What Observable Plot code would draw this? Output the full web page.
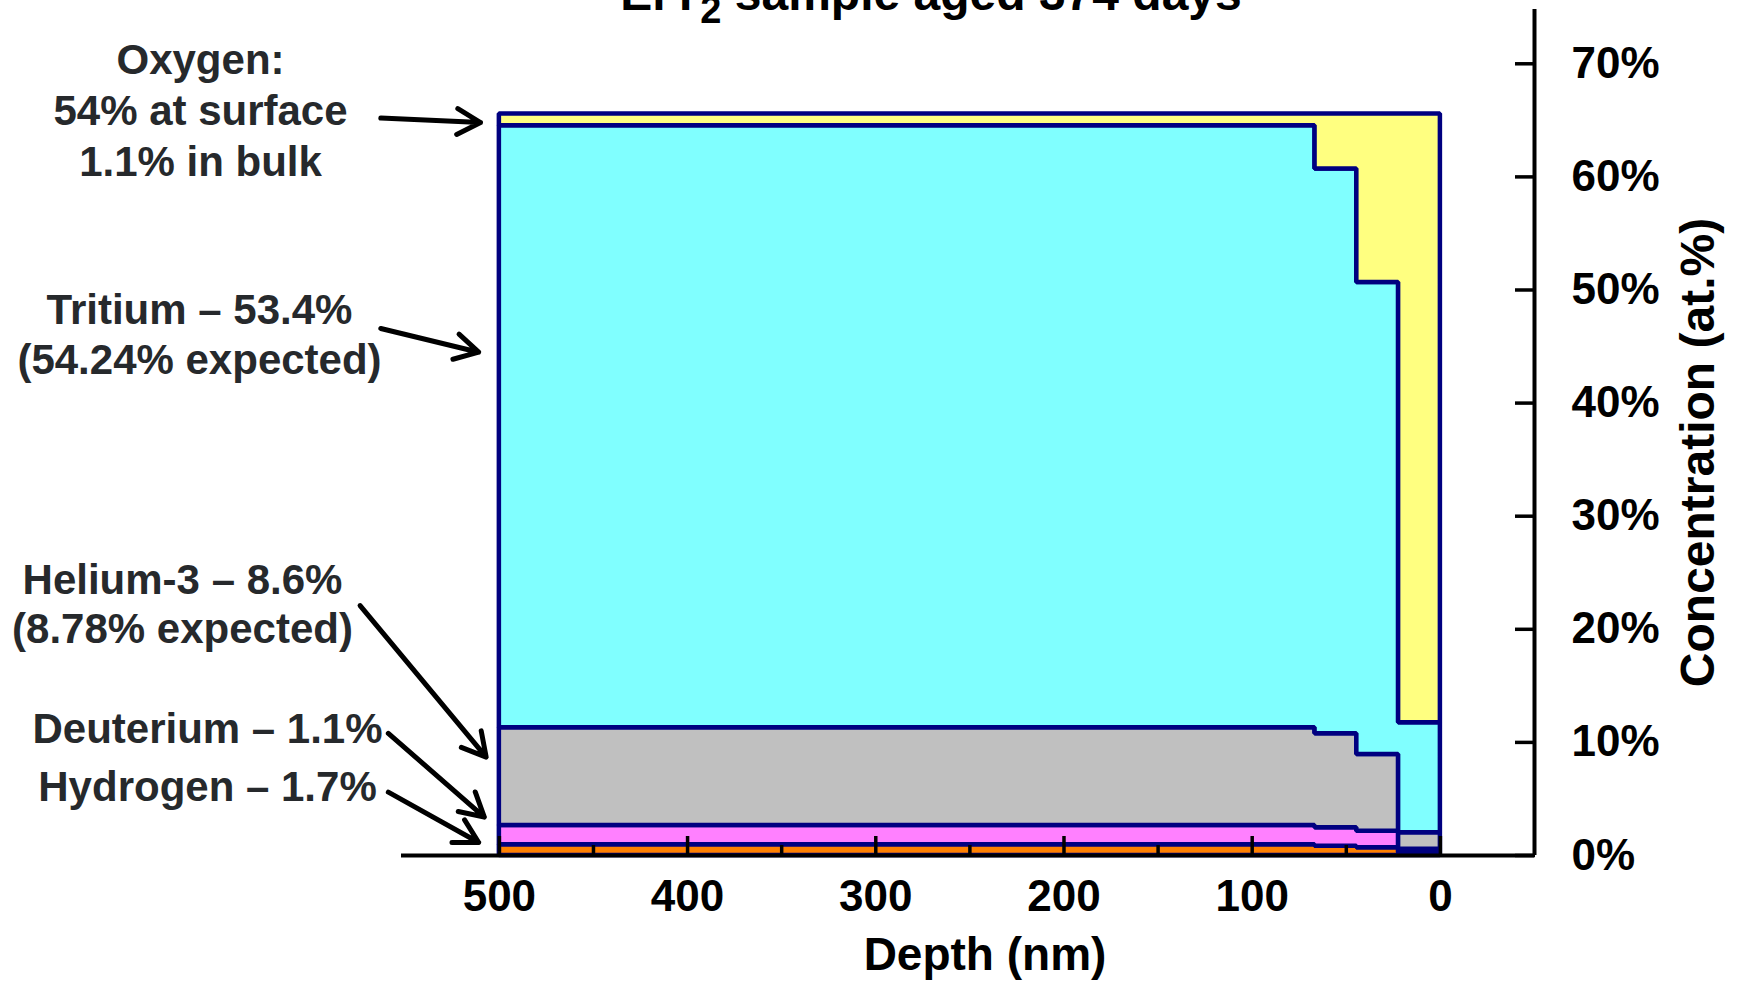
<!DOCTYPE html>
<html>
<head>
<meta charset="utf-8">
<script src="https://cdn.jsdelivr.net/npm/d3@7"></script>
<script src="https://cdn.jsdelivr.net/npm/@observablehq/plot@0.6"></script>
<style>
  html, body { margin: 0; padding: 0; background: #ffffff; overflow: hidden; }
  #chart svg { display: block; }
</style>
</head>
<body>
<div id="chart"></div>
<script>
// ---- data ----
const depthEdges = [500, 66.6, 44.4, 22.2, 0];          // nm, bin edges (bulk -> surface)
const elements = ["Hydrogen", "Deuterium", "Helium-3", "Tritium", "Oxygen"]; // bottom -> top
const hydrogen  = [0.95, 0.82, 0.68, 0.25];             // at.% per depth bin
const deuterium = [1.70, 1.63, 1.47, 0.30];
const helium3   = [8.64, 8.31, 6.78, 1.46];
const tritium   = [53.23, 49.93, 41.74, 9.72];
const oxygen    = [1.03, 4.86, 14.88, 53.82];
const xMajorTicks = [0, 100, 200, 300, 400, 500];
const xMinorTicks = [50, 150, 250, 350, 450];
const yTicks = [0, 10, 20, 30, 40, 50, 60, 70];
const titleParts = ["ErT", "2", " sample aged 374 days"];   // "2" is a subscript
const xLabel = "Depth (nm)";
const yLabel = "Concentration (at.%)";
const annotationTexts = [
  "Oxygen:\n54% at surface\n1.1% in bulk",
  "Tritium \u2013 53.4%\n(54.24% expected)",
  "Helium-3 \u2013 8.6%\n(8.78% expected)",
  "Deuterium \u2013 1.1%",
  "Hydrogen \u2013 1.7%"
];
// arrow tails / tips in data units (depth nm, at.%)
const arrowTailDepth = [563, 563, 574, 559, 559];
const arrowTailPct   = [65.2, 46.6, 22.1, 10.8, 5.6];
const arrowTipDepth  = [510, 511, 507, 508, 511];
const arrowTipPct    = [64.8, 44.5, 8.7, 3.4, 1.15];

// ---- styles / layout ----
const layerColors = ["#ff8000", "#ff80ff", "#c0c0c0", "#80ffff", "#ffff80"];
const outline = "#000080";
const textDark = "#26292c";
const W = 1737, H = 983;
const mTop = 9, mBottom = 128, mLeft = 401, mRight = 203;
const annFont = 42;
const annLayout = [
  {cx: 200, base: 73, lh: 1.22},
  {cx: 199, base: 323, lh: 1.2},
  {cx: 182, base: 593, lh: 1.19},
  {cx: 207, base: 742, lh: 1.2},
  {cx: 207, base: 800, lh: 1.2}
];

// build table for stacked step areas
const series = [hydrogen, deuterium, helium3, tritium, oxygen];
const rows = [];
elements.forEach((name, s) => {
  depthEdges.forEach((d, i) => {
    rows.push({element: name, depth: d, value: series[s][Math.min(i, series[s].length - 1)]});
  });
});
const arrows = elements.map((e, i) => ({
  x1: arrowTailDepth[i], y1: arrowTailPct[i], x2: arrowTipDepth[i], y2: arrowTipPct[i]
}));

const annMarks = annotationTexts.map((t, i) => {
  const L = annLayout[i];
  return Plot.text([t], {
    text: d => d,
    frameAnchor: "top-left",
    dx: L.cx - mLeft,
    dy: L.base - mTop - 0.71 * L.lh * annFont,
    textAnchor: "middle",
    lineAnchor: "top",
    lineHeight: L.lh,
    fontSize: annFont,
    fontWeight: "bold",
    fill: textDark
  });
});

const chart = Plot.plot({
  width: W,
  height: H,
  marginTop: mTop,
  marginBottom: mBottom,
  marginLeft: mLeft,
  marginRight: mRight,
  style: {fontFamily: "'Liberation Sans', Arial, sans-serif", fontWeight: "bold", color: "#000", background: "#fff"},
  x: {domain: [552, -50]},
  y: {domain: [0, 74.8]},
  color: {domain: elements, range: layerColors},
  marks: [
    Plot.areaY(rows, {
      x: "depth", y: "value", z: "element", fill: "element",
      stroke: outline, strokeWidth: 4.5, strokeLinejoin: "miter",
      curve: "step-after", order: null
    }),
    Plot.ruleY([0], {stroke: "#000", strokeWidth: 4}),
    Plot.ruleX([-50], {stroke: "#000", strokeWidth: 4}),
    Plot.axisX({ticks: xMajorTicks, tickSize: -19, tickPadding: 43, tickFormat: d => String(d),
      fontSize: 44, fontWeight: "bold", stroke: "#000", strokeWidth: 3.5, label: null}),
    Plot.axisX({ticks: xMinorTicks, tickSize: -10, tickFormat: () => "", stroke: "#000", strokeWidth: 3.5, label: null}),
    Plot.axisY({anchor: "right", ticks: yTicks, tickSize: -20, tickPadding: 57, tickFormat: d => d + "%",
      fontSize: 44, fontWeight: "bold", stroke: "#000", strokeWidth: 3.5, label: null}),
    Plot.text([xLabel], {text: d => d, frameAnchor: "bottom", dx: 17, dy: 100, lineAnchor: "middle",
      textAnchor: "middle", fontSize: 46, fontWeight: "bold", fill: "#000"}),
    Plot.text([yLabel], {text: d => d, frameAnchor: "right", dx: 164, dy: 20, rotate: -90, lineAnchor: "middle",
      textAnchor: "middle", fontSize: 48, fontWeight: "bold", fill: "#000"}),
    Plot.text([titleParts.join("")], {text: d => d, frameAnchor: "top", dx: -37, dy: 0, lineAnchor: "bottom",
      textAnchor: "middle", fontSize: 48, fontWeight: "bold", fill: "#000", className: "chart-title"}),
    ...annMarks,
    Plot.arrow(arrows, {x1: "x1", y1: "y1", x2: "x2", y2: "y2", stroke: "#000", strokeWidth: 5, headLength: 8, headAngle: 58})
  ]
});

// turn the "2" of the title into a real subscript
const titleNode = chart.querySelector(".chart-title text");
if (titleNode) {
  titleNode.textContent = "";
  const ns = "http://www.w3.org/2000/svg";
  const t1 = document.createElementNS(ns, "tspan"); t1.textContent = titleParts[0];
  const t2 = document.createElementNS(ns, "tspan"); t2.textContent = titleParts[1];
  t2.setAttribute("dy", "13"); t2.setAttribute("font-size", "38");
  const t3 = document.createElementNS(ns, "tspan"); t3.textContent = titleParts[2];
  t3.setAttribute("dy", "-13");
  titleNode.append(t1, t2, t3);
}
document.getElementById("chart").appendChild(chart);
</script>
</body>
</html>
